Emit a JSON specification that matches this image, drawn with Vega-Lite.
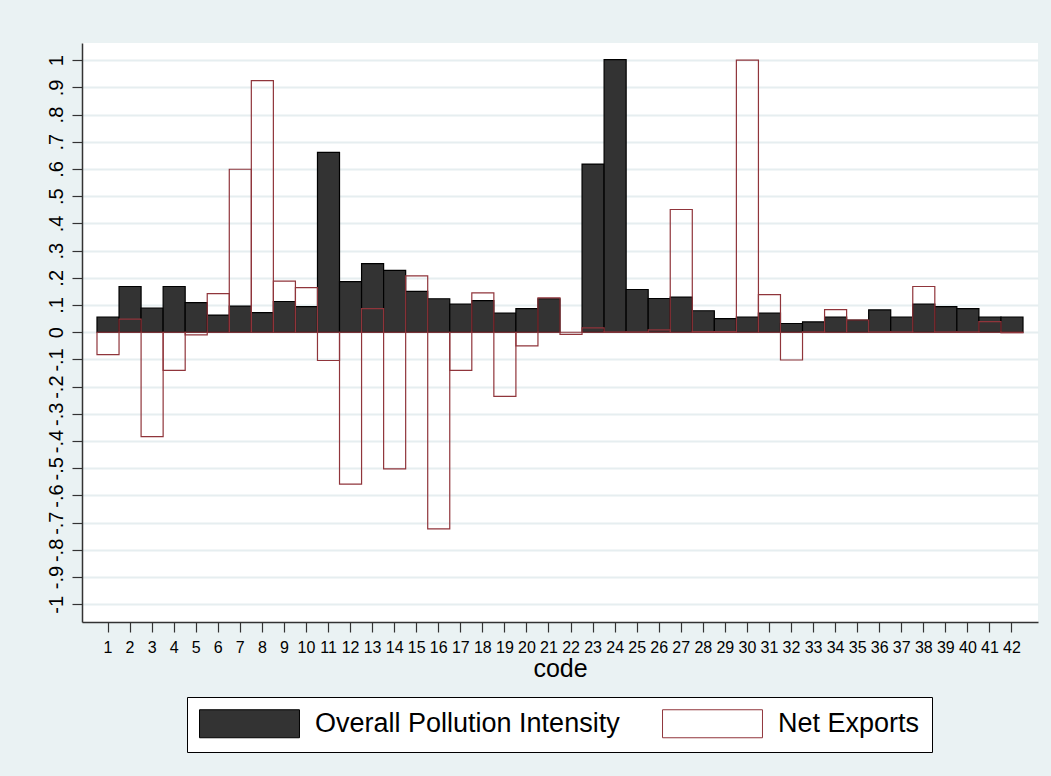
{
  "$schema": "https://vega.github.io/schema/vega-lite/v6.json",
  "autosize": {"type": "none"},
  "padding": {"left": 82, "top": 43, "right": 13, "bottom": 154},
  "width": 956,
  "height": 579,
  "background": "#EAF2F3",
  "config": {
    "view": {"fill": "white", "stroke": null},
    "font": "Liberation Sans"
  },
  "data": {
    "values": [
      {"code": 1, "series": "Overall Pollution Intensity", "value": 0.056},
      {"code": 2, "series": "Overall Pollution Intensity", "value": 0.168},
      {"code": 3, "series": "Overall Pollution Intensity", "value": 0.089},
      {"code": 4, "series": "Overall Pollution Intensity", "value": 0.168},
      {"code": 5, "series": "Overall Pollution Intensity", "value": 0.109},
      {"code": 6, "series": "Overall Pollution Intensity", "value": 0.063},
      {"code": 7, "series": "Overall Pollution Intensity", "value": 0.096},
      {"code": 8, "series": "Overall Pollution Intensity", "value": 0.072},
      {"code": 9, "series": "Overall Pollution Intensity", "value": 0.113},
      {"code": 10, "series": "Overall Pollution Intensity", "value": 0.094},
      {"code": 11, "series": "Overall Pollution Intensity", "value": 0.661},
      {"code": 12, "series": "Overall Pollution Intensity", "value": 0.186},
      {"code": 13, "series": "Overall Pollution Intensity", "value": 0.252},
      {"code": 14, "series": "Overall Pollution Intensity", "value": 0.227},
      {"code": 15, "series": "Overall Pollution Intensity", "value": 0.150},
      {"code": 16, "series": "Overall Pollution Intensity", "value": 0.123},
      {"code": 17, "series": "Overall Pollution Intensity", "value": 0.103},
      {"code": 18, "series": "Overall Pollution Intensity", "value": 0.116},
      {"code": 19, "series": "Overall Pollution Intensity", "value": 0.070},
      {"code": 20, "series": "Overall Pollution Intensity", "value": 0.087},
      {"code": 21, "series": "Overall Pollution Intensity", "value": 0.123},
      {"code": 23, "series": "Overall Pollution Intensity", "value": 0.618},
      {"code": 24, "series": "Overall Pollution Intensity", "value": 1.002},
      {"code": 25, "series": "Overall Pollution Intensity", "value": 0.157},
      {"code": 26, "series": "Overall Pollution Intensity", "value": 0.124},
      {"code": 27, "series": "Overall Pollution Intensity", "value": 0.129},
      {"code": 28, "series": "Overall Pollution Intensity", "value": 0.079},
      {"code": 29, "series": "Overall Pollution Intensity", "value": 0.050},
      {"code": 30, "series": "Overall Pollution Intensity", "value": 0.056},
      {"code": 31, "series": "Overall Pollution Intensity", "value": 0.070},
      {"code": 32, "series": "Overall Pollution Intensity", "value": 0.032},
      {"code": 33, "series": "Overall Pollution Intensity", "value": 0.038},
      {"code": 34, "series": "Overall Pollution Intensity", "value": 0.056},
      {"code": 35, "series": "Overall Pollution Intensity", "value": 0.045},
      {"code": 36, "series": "Overall Pollution Intensity", "value": 0.082},
      {"code": 37, "series": "Overall Pollution Intensity", "value": 0.056},
      {"code": 38, "series": "Overall Pollution Intensity", "value": 0.103},
      {"code": 39, "series": "Overall Pollution Intensity", "value": 0.094},
      {"code": 40, "series": "Overall Pollution Intensity", "value": 0.087},
      {"code": 41, "series": "Overall Pollution Intensity", "value": 0.056},
      {"code": 42, "series": "Overall Pollution Intensity", "value": 0.056},
      {"code": 1, "series": "Net Exports", "value": -0.082},
      {"code": 2, "series": "Net Exports", "value": 0.048},
      {"code": 3, "series": "Net Exports", "value": -0.384},
      {"code": 4, "series": "Net Exports", "value": -0.140},
      {"code": 5, "series": "Net Exports", "value": -0.010},
      {"code": 6, "series": "Net Exports", "value": 0.142},
      {"code": 7, "series": "Net Exports", "value": 0.599},
      {"code": 8, "series": "Net Exports", "value": 0.925},
      {"code": 9, "series": "Net Exports", "value": 0.188},
      {"code": 10, "series": "Net Exports", "value": 0.164},
      {"code": 11, "series": "Net Exports", "value": -0.104},
      {"code": 12, "series": "Net Exports", "value": -0.558},
      {"code": 13, "series": "Net Exports", "value": 0.087},
      {"code": 14, "series": "Net Exports", "value": -0.502},
      {"code": 15, "series": "Net Exports", "value": 0.207},
      {"code": 16, "series": "Net Exports", "value": -0.723},
      {"code": 17, "series": "Net Exports", "value": -0.140},
      {"code": 18, "series": "Net Exports", "value": 0.145},
      {"code": 19, "series": "Net Exports", "value": -0.236},
      {"code": 20, "series": "Net Exports", "value": -0.050},
      {"code": 21, "series": "Net Exports", "value": 0.126},
      {"code": 22, "series": "Net Exports", "value": -0.008},
      {"code": 23, "series": "Net Exports", "value": 0.016},
      {"code": 24, "series": "Net Exports", "value": 0.001},
      {"code": 25, "series": "Net Exports", "value": 0.001},
      {"code": 26, "series": "Net Exports", "value": 0.009},
      {"code": 27, "series": "Net Exports", "value": 0.451},
      {"code": 28, "series": "Net Exports", "value": 0.002},
      {"code": 29, "series": "Net Exports", "value": 0.002},
      {"code": 30, "series": "Net Exports", "value": 1.0},
      {"code": 31, "series": "Net Exports", "value": 0.138},
      {"code": 32, "series": "Net Exports", "value": -0.102},
      {"code": 33, "series": "Net Exports", "value": 0.001},
      {"code": 34, "series": "Net Exports", "value": 0.083},
      {"code": 35, "series": "Net Exports", "value": 0.045},
      {"code": 36, "series": "Net Exports", "value": 0.001},
      {"code": 37, "series": "Net Exports", "value": 0.001},
      {"code": 38, "series": "Net Exports", "value": 0.168},
      {"code": 39, "series": "Net Exports", "value": 0.001},
      {"code": 40, "series": "Net Exports", "value": 0.001},
      {"code": 41, "series": "Net Exports", "value": 0.039},
      {"code": 42, "series": "Net Exports", "value": -0.002}
    ]
  },
  "mark": {"type": "bar", "strokeWidth": 1.2},
  "encoding": {
    "x": {
      "field": "code",
      "type": "ordinal",
      "scale": {"paddingInner": 0, "paddingOuter": 0.68},
      "axis": {
        "title": "code",
        "titleFontSize": 25,
        "titleFontWeight": "normal",
        "titleColor": "black",
        "titlePadding": 1,
        "labelAngle": 0,
        "labelFontSize": 16,
        "labelColor": "black",
        "labelPadding": 7,
        "tickSize": 10,
        "tickColor": "#333333",
        "tickWidth": 1.2,
        "domainColor": "#333333",
        "domainWidth": 1.5,
        "grid": false
      }
    },
    "y": {
      "field": "value",
      "type": "quantitative",
      "stack": null,
      "scale": {"domain": [-1.065, 1.063], "nice": false, "zero": false},
      "axis": {
        "title": null,
        "values": [-1, -0.9, -0.8, -0.7, -0.6, -0.5, -0.4, -0.3, -0.2, -0.1, 0, 0.1, 0.2, 0.3, 0.4, 0.5, 0.6, 0.7, 0.8, 0.9, 1],
        "labelExpr": "(datum.value < 0 ? '-' : '') + replace(format(abs(datum.value), '.1~f'), '0.', '.')",
        "labelAngle": -90,
        "labelAlign": "center",
        "labelBaseline": "alphabetic",
        "labelFontSize": 20,
        "labelColor": "black",
        "labelPadding": 10,
        "labelOverlap": false,
        "tickSize": 10,
        "tickColor": "#333333",
        "tickWidth": 1.2,
        "domainColor": "#333333",
        "domainWidth": 1.5,
        "grid": true,
        "gridColor": "#E6EEF0",
        "gridWidth": 2
      }
    },
    "fill": {
      "field": "series",
      "type": "nominal",
      "scale": {"domain": ["Overall Pollution Intensity", "Net Exports"], "range": ["#333333", "transparent"]},
      "legend": {
        "title": null,
        "orient": "none",
        "legendX": 105,
        "legendY": 654,
        "direction": "horizontal",
        "fillColor": "white",
        "strokeColor": "black",
        "padding": 12,
        "symbolType": "M-3.57,-1H3.57V1H-3.57Z",
        "symbolSize": 784,
        "symbolOffset": 36,
        "symbolStrokeWidth": 1,
        "labelOffset": 51,
        "columnPadding": 40,
        "labelFontSize": 27,
        "labelColor": "black",
        "labelLimit": 500
      }
    },
    "stroke": {
      "field": "series",
      "type": "nominal",
      "scale": {"domain": ["Overall Pollution Intensity", "Net Exports"], "range": ["#000000", "#90353B"]}
    }
  }
}
